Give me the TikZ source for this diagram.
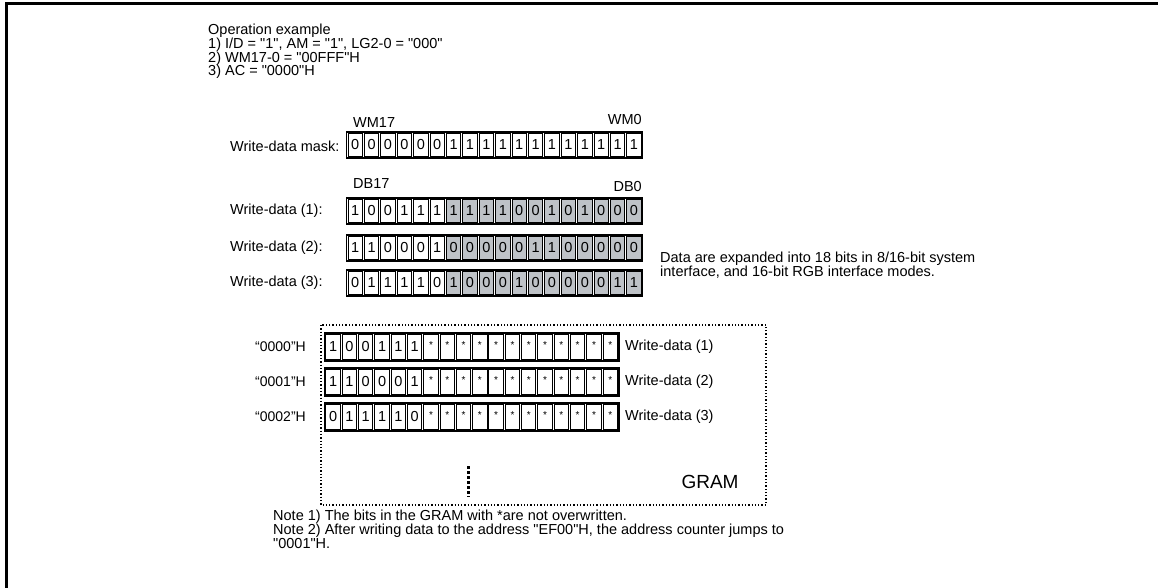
\documentclass[tikz,border=0pt]{standalone}
\usepackage{fontspec}
\setmainfont{Liberation Sans}
\newfontfamily\lsans{Liberation Sans}
\usetikzlibrary{positioning}
\usetikzlibrary{fit}
\definecolor{maskgray}{RGB}{190,194,199}
\tikzset{
  txt/.style={font=\lsans\fontsize{14.5}{13.7}\selectfont, inner sep=0pt, align=left},
  bit/.style={draw, line width=1pt, minimum width=14.4pt, minimum height=23pt, inner sep=0pt, font=\lsans\fontsize{14.5}{14}\selectfont},
  hibit/.style={bit, fill=maskgray},
  gbit/.style={bit, minimum height=25pt},
  rowbox/.style={draw, line width=1.2pt, inner sep=1pt},
}

\begin{document}
\lsans
\begin{tikzpicture}[x=1pt, y=-1pt]
    \useasboundingbox (0,0) rectangle (1158,588);
    \draw[line width=3pt] (1158,4) -- (6,4) -- (6,588);
    % operation example
    \node[txt, anchor=north west] (opex) at (208,24) {Operation example\\1) I/D = "1", AM = "1", LG2-0 = "000"\\2) WM17-0 = "00FFF"H\\3) AC = "0000"H};
    % write-data mask
    \node[txt, anchor=west] (masklbl) at (230,146) {Write-data mask:};
    \foreach \b [count=\i] in {0,0,0,0,0,0,1,1,1,1,1,1,1,1,1,1,1,1} {
        \pgfmathsetmacro\x{347+(\i-0.5)*16.4}
        \node[bit] (m\i) at (\x,145) {\b};
    }
    \node[rowbox, fit=(m1)(m18)] (mask) {};
    \node[txt, anchor=base west] (wmhi) at (353,128) {WM17};
    \node[txt, anchor=base east] (wmlo) at (642,125) {WM0};
    \node[txt, anchor=base west] (dbhi) at (353,189) {DB17};
    \node[txt, anchor=base east] (dblo) at (642,192) {DB0};
    % write-data rows
    \foreach \r/\y/\bits in {1/211/{1,0,0,1,1,1,1,1,1,1,0,0,1,0,1,0,0,0},
                             2/248/{1,1,0,0,0,1,0,0,0,0,0,1,1,0,0,0,0,0},
                             3/283/{0,1,1,1,1,0,1,0,0,0,1,0,0,0,0,0,1,1}} {
        \node[txt, anchor=west] (dl\r) at (230,\y) {Write-data (\r):};
        \foreach \b [count=\i] in \bits {
            \pgfmathsetmacro\x{347+(\i-0.5)*16.4}
            \ifnum\i>6 \def\sty{hibit}\else\def\sty{bit}\fi
            \node[\sty] (d\r-\i) at (\x,\y) {\b};
        }
        \node[rowbox, fit=(d\r-1)(d\r-18)] (drow\r) {};
    }
    \node[txt, anchor=north west] (expnote) at (660,252) {Data are expanded into 18 bits in 8/16-bit system\\interface, and 16-bit RGB interface modes.};
    % GRAM
    \draw[dotted, line width=1.3pt] (321,325) rectangle (766,505);
    \foreach \r/\y/\addr/\bits in {1/347/0000/{1,0,0,1,1,1},
                                   2/382/0001/{1,1,0,0,0,1},
                                   3/417/0002/{0,1,1,1,1,0}} {
        \node[txt, font=\lsans\fontsize{14}{14}\selectfont, anchor=east] (a\r) at (306,\y) {“\addr”H};
        \foreach \b [count=\i] in \bits {
            \pgfmathsetmacro\x{325+(\i-0.5)*16.3}
            \node[gbit] (g\r-\i) at (\x,\y) {\b};
        }
        \foreach \i in {7,...,18} {
            \pgfmathsetmacro\x{325+(\i-0.5)*16.3}
            \node[gbit, font=\lsans\fontsize{10}{10}\selectfont] (g\r-\i) at (\x,\y) {\raisebox{3pt}{*}};
        }
        \node[rowbox, fit=(g\r-1)(g\r-18)] (grow\r) {};
        \node[txt, anchor=west] (gl\r) at (625,\y) {Write-data (\r)};
    }
    \draw[line width=3pt, dash pattern=on 3pt off 2pt] (468,466) -- (468,497);
    \node[font=\lsans\fontsize{19}{19}\selectfont] (gramlbl) at (710,482) {GRAM};
    % notes
    \node[txt, anchor=north west] (notes) at (273,510) {Note 1) The bits in the GRAM with *are not overwritten.\\Note 2) After writing data to the address "EF00"H, the address counter jumps to\\"0001"H.};
\end{tikzpicture}
\end{document}
